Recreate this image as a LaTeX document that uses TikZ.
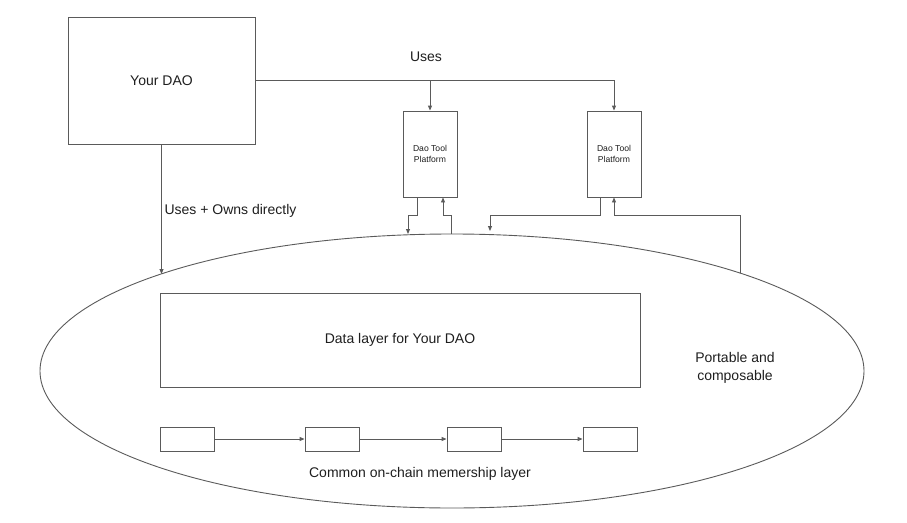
\documentclass[tikz,border=0pt]{standalone}
\usepackage{fontspec}
\setmainfont{Liberation Sans}
\usetikzlibrary{arrows.meta, shapes.geometric}
\definecolor{edgegray}{HTML}{5A5A5A}
\definecolor{textdark}{HTML}{1E1E1E}
\tikzset{
  box/.style={draw=edgegray, line width=0.9pt, text=textdark, font=\fontsize{14}{17}\selectfont},
  toolbox/.style={draw=edgegray, line width=0.9pt, minimum width=54pt, minimum height=86pt, align=center, text=textdark, font=\fontsize{8.6}{10.5}\selectfont},
  memberbox/.style={draw=edgegray, line width=0.9pt, minimum width=54pt, minimum height=24pt},
  label/.style={text=textdark, font=\fontsize{14}{18}\selectfont},
  link/.style={draw=edgegray, line width=0.9pt, -{Triangle[length=5pt,width=4pt]}},
}
\begin{document}
\begin{tikzpicture}[x=1pt, y=-1pt]
\useasboundingbox (0,0) rectangle (907,522);
% boxes
\node[box, minimum width=187pt, minimum height=127pt] (dao) at (161.5,80.5) {Your DAO};
\node[toolbox] (tool1) at (430,154) {Dao Tool\\Platform};
\node[toolbox] (tool2) at (614,154) {Dao Tool\\Platform};
\node[draw=edgegray, line width=0.9pt, ellipse, minimum width=824pt, minimum height=274pt, inner sep=0pt] (layer) at (452,371) {};
\node[box, minimum width=480pt, minimum height=94pt] (data) at (400,340) {Data layer for Your DAO};
\foreach \i/\x in {1/187,2/332,3/474,4/610}
  \node[memberbox] (m\i) at (\x,439) {};
\foreach \a/\b in {1/2,2/3,3/4}
  \draw[link] (m\a) -- (m\b);
% labels
\node[label] (uses) at (426,57) {Uses};
\node[label, anchor=west] (owns) at (161,211) {Uses + Owns directly};
\node[label, align=center] (portable) at (735,368) {Portable and\\composable};
\node[label] (common) at (420,474) {Common on-chain memership layer};
% points on the ellipse
\coordinate (ownsend) at (161.5,274);
\coordinate (t1in) at (408,234);
\coordinate (t1out) at (451,234);
\coordinate (t2in) at (490,231);
\coordinate (t2out) at (740,273);
% connectors
\draw[link] (dao.east) -| (tool2.north);
\draw[link] (dao.east -| tool1.north) -- (tool1.north);
\draw[link] (dao.south) -- (ownsend);
\draw[link] ([xshift=-13pt]tool1.south) -- ++(0,18) -| (t1in);
\draw[link] (t1out) -- ++(0,-19) -| ([xshift=13pt]tool1.south);
\draw[link] ([xshift=-14pt]tool2.south) -- ++(0,18) -| (t2in);
\draw[link] (t2out) |- ([yshift=-18pt]tool2.south) -- (tool2.south);
\end{tikzpicture}
\end{document}
